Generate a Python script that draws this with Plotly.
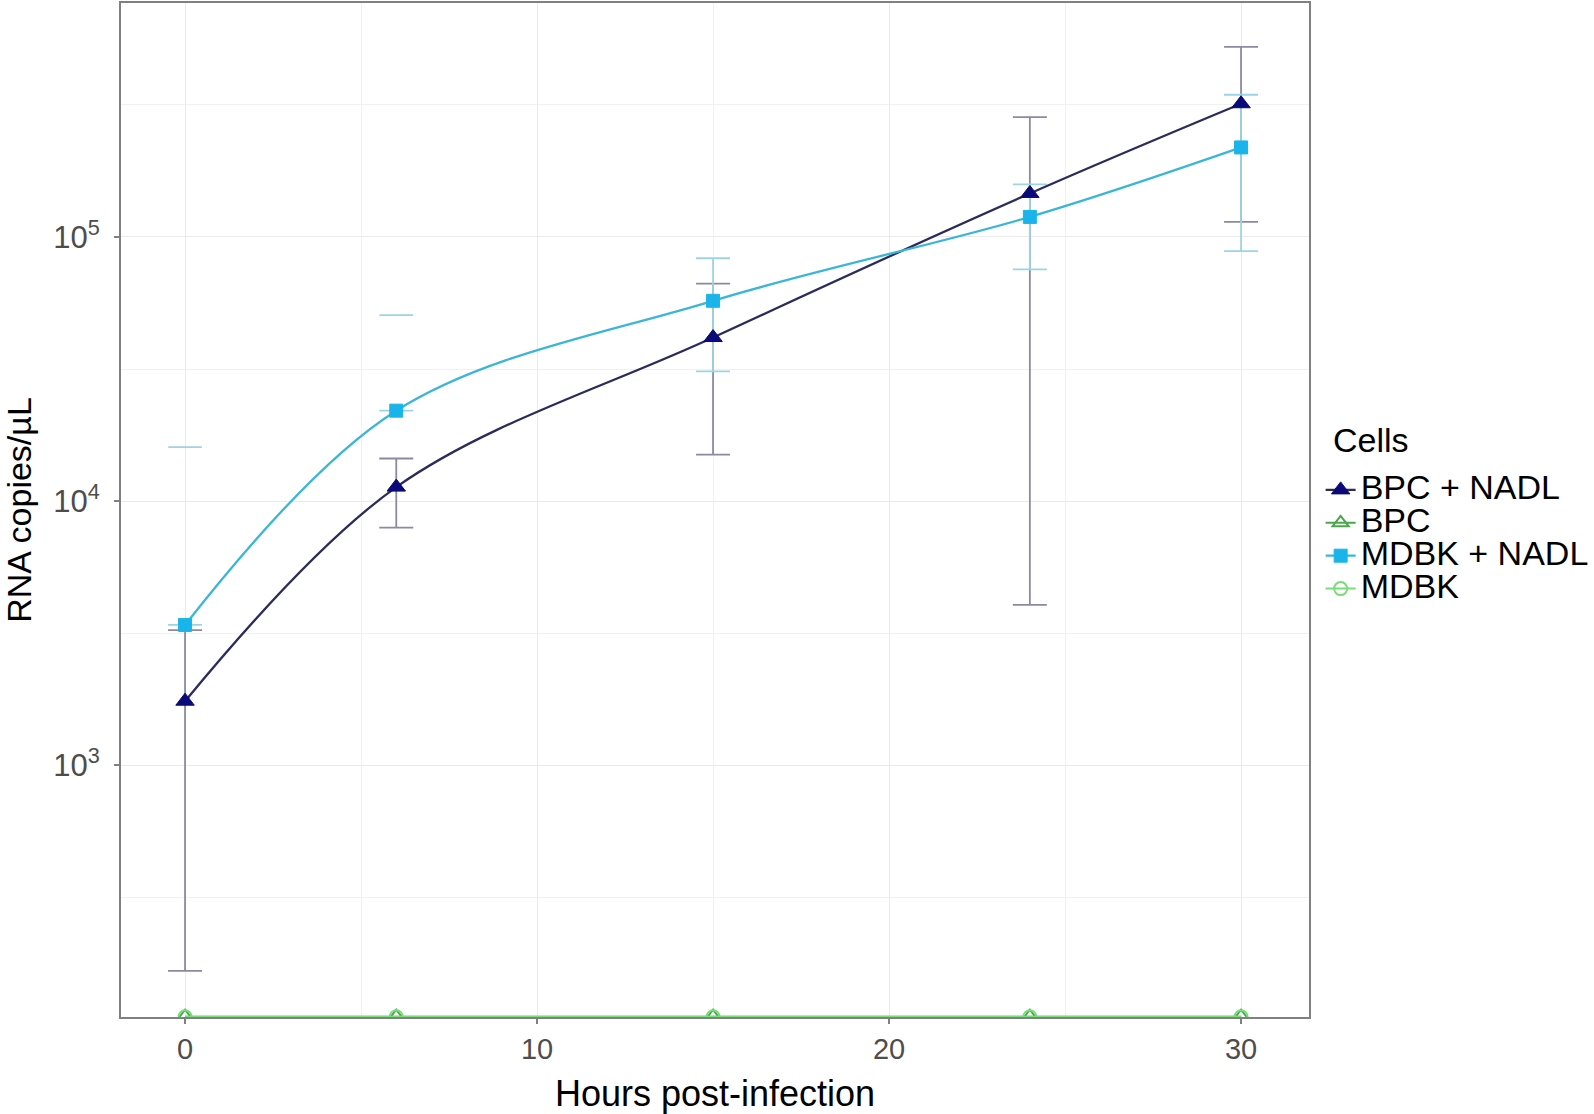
import plotly.graph_objects as go

# ---- data ----
hours = [0, 6, 15, 24, 30]

bpc_nadl = [1750, 11300, 41600, 146000, 319000]
bpc_nadl_lo = [167, 7940, 15000, 4050, 114000]
bpc_nadl_hi = [3250, 14500, 66500, 284000, 524000]

mdbk_nadl = [3400, 22000, 57300, 119000, 218000]
mdbk_nadl_lo = [None, None, 31000, 75300, 88300]
mdbk_nadl_hi = [16000, 50600, 83000, 158000, 345000]

bpc = [112, 112, 112, 112, 112]
mdbk = [112, 112, 112, 112, 112]

series_names = ["BPC + NADL", "BPC", "MDBK + NADL", "MDBK"]
legend_title = "Cells"
x_ticks = [0, 10, 20, 30]
y_ticks = [1e3, 1e4, 1e5]
y_tick_text = ["10<sup>3</sup>", "10<sup>4</sup>", "10<sup>5</sup>"]
y_minor = [10**2.5, 10**3.5, 10**4.5, 10**5.5]

# ---- styles ----
FONT = "Liberation Sans, Arial, sans-serif"
C_BN_LINE = "#2b2b5c"
C_BN_MARK = "#0a0a78"
C_BN_ERR = "#8a8aa2"
C_MN_LINE = "#3cb6d6"
C_MN_MARK = "#19b5ea"
C_MN_ERR = "#9bd5e3"
C_BPC = "#4aa84a"
C_MDBK = "#79dd79"
LEG_TXT = 34


def err_arrays(v, lo, hi):
    plus, minus = [], []
    for a, l, h in zip(v, lo, hi):
        if l is None or h is None:
            plus.append(float("nan"))
            minus.append(float("nan"))
        else:
            plus.append(h - a)
            minus.append(a - l)
    return plus, minus


def leg(name):
    return '<span style="font-size:%dpx">%s</span>' % (LEG_TXT, name)


fig = go.Figure()

# error bars (drawn first, beneath lines)
p, m = err_arrays(bpc_nadl, bpc_nadl_lo, bpc_nadl_hi)
fig.add_trace(go.Scatter(
    x=hours, y=bpc_nadl, mode="markers", marker=dict(opacity=0, size=1),
    error_y=dict(type="data", symmetric=False, array=p, arrayminus=m,
                 color=C_BN_ERR, thickness=1.8, width=17),
    showlegend=False, hoverinfo="skip"))

p, m = err_arrays(mdbk_nadl, mdbk_nadl_lo, mdbk_nadl_hi)
fig.add_trace(go.Scatter(
    x=hours, y=mdbk_nadl, mode="markers", marker=dict(opacity=0, size=1),
    error_y=dict(type="data", symmetric=False, array=p, arrayminus=m,
                 color=C_MN_ERR, thickness=1.8, width=17),
    showlegend=False, hoverinfo="skip"))

# caps only where the lower bound is undefined (log of negative)
cap_x = [h for h, l in zip(hours, mdbk_nadl_lo) if l is None]
cap_y = [h for h, l in zip(mdbk_nadl_hi, mdbk_nadl_lo) if l is None]
fig.add_trace(go.Scatter(
    x=cap_x, y=cap_y, mode="markers",
    marker=dict(symbol="line-ew", size=24, line=dict(color=C_MN_ERR, width=1.8)),
    showlegend=False, hoverinfo="skip"))

# lines + points
fig.add_trace(go.Scatter(
    x=hours, y=bpc_nadl, mode="lines+markers", name=leg(series_names[0]),
    line=dict(color=C_BN_LINE, width=2.3, shape="spline", smoothing=1.0),
    marker=dict(symbol="triangle-up", size=16, color=C_BN_MARK,
                line=dict(color=C_BN_MARK, width=1))))
fig.add_trace(go.Scatter(
    x=hours, y=bpc, mode="lines+markers", name=leg(series_names[1]),
    line=dict(color=C_BPC, width=2, shape="spline"),
    marker=dict(symbol="triangle-up-open", size=14, color=C_BPC,
                line=dict(color=C_BPC, width=2))))
fig.add_trace(go.Scatter(
    x=hours, y=mdbk_nadl, mode="lines+markers", name=leg(series_names[2]),
    line=dict(color=C_MN_LINE, width=2.3, shape="spline", smoothing=1.0),
    marker=dict(symbol="square", size=13, color=C_MN_MARK,
                line=dict(color=C_MN_MARK, width=1))))
fig.add_trace(go.Scatter(
    x=hours, y=mdbk, mode="lines+markers", name=leg(series_names[3]),
    line=dict(color=C_MDBK, width=2, shape="spline"),
    marker=dict(symbol="circle-open", size=13, color=C_MDBK,
                line=dict(color=C_MDBK, width=2))))

fig.update_layout(
    width=1594, height=1114,
    margin=dict(l=121, r=285, t=3, b=97, autoexpand=False),
    paper_bgcolor="white", plot_bgcolor="white",
    font=dict(family=FONT, color="black"),
    legend=dict(
        font=dict(size=23, color="black"),
        x=1.0098, xanchor="left", y=0.541, yanchor="top",
        bgcolor="rgba(0,0,0,0)", itemwidth=30, tracegroupgap=0,
    ),
    annotations=[dict(
        text=legend_title, xref="paper", yref="paper",
        x=1.0185, y=0.569, xanchor="left", yanchor="middle",
        showarrow=False, font=dict(size=34, color="black"),
    )],
)

fig.update_xaxes(
    range=[-1.82, 31.93], tickvals=x_ticks, ticktext=[str(t) for t in x_ticks],
    showgrid=True, gridcolor="#ebebeb", gridwidth=1,
    minor=dict(dtick=5, tick0=0, showgrid=True, gridcolor="#f1f1f1", gridwidth=1, ticks=""),
    showline=True, linecolor="#808080", linewidth=2, mirror=True,
    ticks="outside", ticklen=5, tickcolor="#808080", tickwidth=1.5,
    tickfont=dict(size=29, color="#4d4d4d"), ticklabelstandoff=0,
    title=dict(text="Hours post-infection", font=dict(size=36, color="black"), standoff=17),
    zeroline=False,
)

fig.update_yaxes(
    type="log", range=[2.048, 5.885], tickvals=y_ticks, ticktext=y_tick_text,
    showgrid=True, gridcolor="#ebebeb", gridwidth=1,
    minor=dict(tickmode="array", tickvals=y_minor, showgrid=True,
               gridcolor="#f1f1f1", gridwidth=1, ticks=""),
    showline=True, linecolor="#808080", linewidth=2, mirror=True,
    ticks="outside", ticklen=5, tickcolor="#808080", tickwidth=1.5,
    tickfont=dict(size=31, color="#4d4d4d"), ticklabelstandoff=8,
    title=dict(text="RNA copies/µL", font=dict(size=34, color="black"), standoff=16),
    zeroline=False,
)

fig.write_html(
    "out.html",
    config={"displayModeBar": False},
    post_script="document.body.style.margin='0';document.body.style.padding='0';"
                "document.body.style.overflow='hidden';",
)
